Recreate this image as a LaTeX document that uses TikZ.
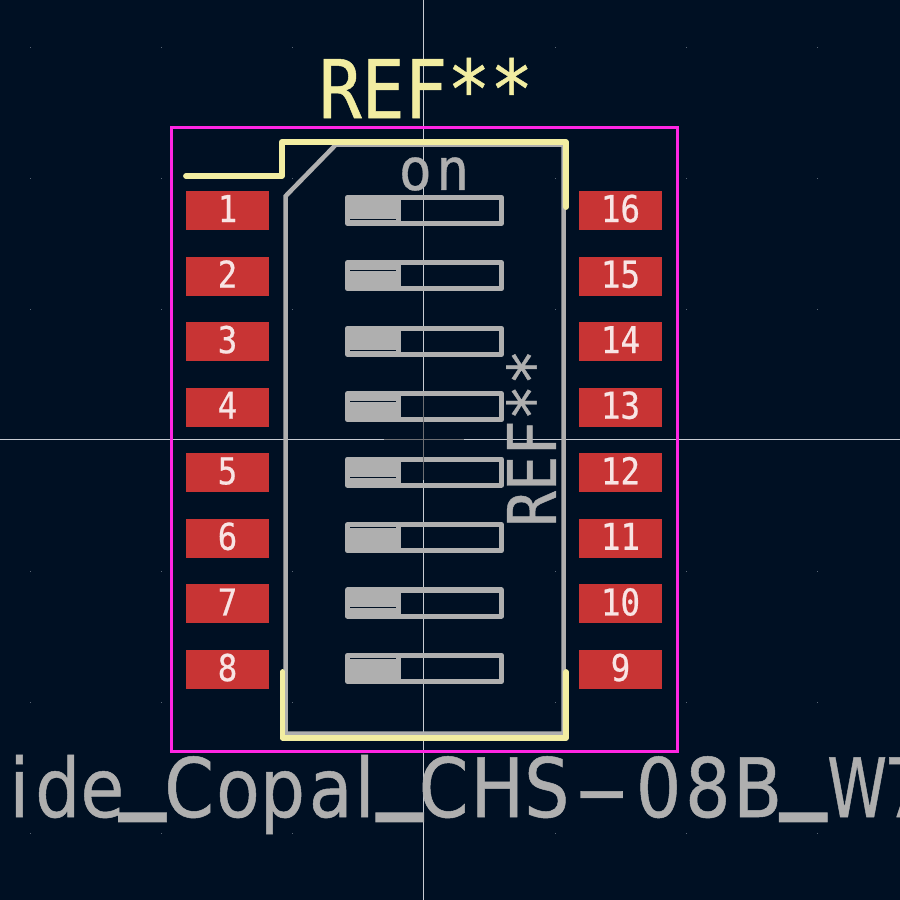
\documentclass[tikz,border=0pt]{standalone}
\usepackage{fontspec}
\newfontfamily\kifont[FakeStretch=0.88,FakeBold=0.6]{DejaVu Sans Mono}
\newfontfamily\kifontwide[FakeStretch=0.95,FakeBold=0.6]{DejaVu Sans Mono}
\newfontfamily\kifontsans[FakeStretch=0.87,FakeBold=0.6]{DejaVu Sans}
\newcommand{\kk}[1]{\kern#1pt}
\newcommand{\kiund}{\raisebox{7.4pt}{\scalebox{1.3}[1.6]{\_}}}
\newcommand{\kidash}{\scalebox{2.2}[1]{-}}
\newcommand{\kiwide}{\scalebox{0.85}[1]{W}}
\definecolor{boardbg}{HTML}{001023}
\definecolor{padred}{HTML}{C83434}
\definecolor{padtext}{HTML}{F8E4E4}
\definecolor{silkyellow}{HTML}{F2EDA1}
\definecolor{fabgray}{HTML}{AFAFAF}
\definecolor{courtpink}{HTML}{FF26E2}
\definecolor{crossline}{HTML}{C8CCD2}
\definecolor{griddot}{HTML}{5A6675}
\definecolor{anchorgray}{HTML}{6E7074}
\tikzset{
  pad/.style = {fill=padred,minimum width=0.83cm,minimum height=0.39cm,inner sep=0pt,text height=0.27cm,text depth=0.04cm,text=padtext,font=\kifont\fontsize{10.5}{11}\selectfont},
  slider/.style = {draw=fabgray,line width=0.05cm,line join=round,minimum width=1.54cm,minimum height=0.26cm,inner sep=0pt,outer sep=0pt},
  silk/.style = {draw=silkyellow,line width=0.058cm,line cap=round,line join=round},
  fab/.style = {draw=fabgray,line width=0.045cm},
  fabtext/.style = {text=fabgray,inner sep=0pt}
}
\begin{document}
\begin{tikzpicture}[x=0.01cm,y=-0.01cm]
    \fill[boardbg] (0,0) rectangle (900,900);
    \clip (0,0) rectangle (900,900);
    \useasboundingbox (0,0) rectangle (900,900);

    % grid dots
    \foreach \gx in {30,161,292,555,686,817} {
      \foreach \gy in {47,178,309,571,702,833} {
        \fill[griddot] (\gx-0.5,\gy-0.5) rectangle (\gx+0.5,\gy+0.5);
      }
    }

    % crosshair
    \coordinate (crosstop) at (423,0);
    \coordinate (crossbottom) at (423,900);
    \coordinate (crossleft) at (0,439);
    \coordinate (crossright) at (900,439);
    \draw[crossline,line width=0.008cm] (crosstop) -- (crossbottom);
    \draw[crossline,line width=0.008cm] (crossleft) -- (crossright);

    % courtyard
    \draw[courtpink,line width=0.03cm] (171.5,127.3) rectangle (677.4,751.3);

    % fab outline
    \coordinate (fabcut) at (336,144.5);
    \coordinate (fabnw) at (285.7,196);
    \coordinate (fabsw) at (285.7,733.5);
    \coordinate (fabse) at (563.7,733.5);
    \coordinate (fabne) at (563.7,144.5);
    \draw[fab] (fabcut) -- (fabnw) -- (fabsw) -- (fabse) -- (fabne) -- cycle;

    % sliders
    \node[slider] (s1) at (424.5,210.4) {};
    \node[slider] (s2) at (424.5,275.8) {};
    \node[slider] (s3) at (424.5,341.3) {};
    \node[slider] (s4) at (424.5,406.7) {};
    \node[slider] (s5) at (424.5,472.1) {};
    \node[slider] (s6) at (424.5,537.6) {};
    \node[slider] (s7) at (424.5,603) {};
    \node[slider] (s8) at (424.5,668.4) {};
    \foreach \sw/\ty in {s1/0.225,s2/0.075,s3/0.225,s4/0.075,s5/0.18,s6/0.03,s7/0.175,s8/0.03} {
      \fill[fabgray] (\sw.north west) rectangle ([xshift=0.54cm]\sw.south west);
      \draw[boardbg,line width=0.01cm] ([xshift=0.03cm,yshift=-\ty cm]\sw.north west) -- ++(46,0);
    }

    % footprint anchor
    \coordinate (ancleft) at (384,439);
    \coordinate (ancright) at (464,439);
    \coordinate (anctop) at (423,396);
    \coordinate (ancbottom) at (423,480);
    \draw[anchorgray,line width=0.008cm] (ancleft) -- (ancright);
    \draw[anchorgray,line width=0.008cm] (anctop) -- (ancbottom);

    % silkscreen
    \coordinate (silktick) at (186,176);
    \coordinate (silkstep) at (282,176);
    \coordinate (silktl) at (282,142);
    \coordinate (silktr) at (566,142);
    \coordinate (silkend) at (566,207);
    \draw[silk] (silktick) -- (silkstep) -- (silktl) -- (silktr) -- (silkend);
    \coordinate (silkleft) at (282.5,672);
    \coordinate (silkbl) at (282.5,737.8);
    \coordinate (silkbr) at (566,737.8);
    \coordinate (silkright) at (566,672);
    \draw[silk] (silkleft) -- (silkbl) -- (silkbr) -- (silkright);

    % pads
    \node[pad] (p1) at (227.5,210.5) {1};
    \node[pad] (p2) at (227.5,276.1) {2};
    \node[pad] (p3) at (227.5,341.6) {3};
    \node[pad] (p4) at (227.5,407.2) {4};
    \node[pad] (p5) at (227.5,472.8) {5};
    \node[pad] (p6) at (227.5,538.3) {6};
    \node[pad] (p7) at (227.5,603.9) {7};
    \node[pad] (p8) at (227.5,669.5) {8};
    \node[pad] (p9) at (620.5,669.5) {9};
    \node[pad] (p10) at (620.5,603.9) {10};
    \node[pad] (p11) at (620.5,538.3) {11};
    \node[pad] (p12) at (620.5,472.8) {12};
    \node[pad] (p13) at (620.5,407.2) {13};
    \node[pad] (p14) at (620.5,341.6) {14};
    \node[pad] (p15) at (620.5,276.1) {15};
    \node[pad] (p16) at (620.5,210.5) {16};

    % texts
    \node[text=silkyellow,inner sep=0pt,font=\kifont\fontsize{23}{24}\selectfont] (refsilk) at (426,88) {REF**};
    \node[fabtext,font=\kifontwide\fontsize{16.5}{17}\selectfont] (ontext) at (434,174) {o\kk{1.2}n};
    \node[fabtext,rotate=90,font=\kifont\fontsize{19}{20}\selectfont] (reffab) at (531,438) {REF**};
    \node[fabtext,anchor=base west,font=\kifontsans\fontsize{23.3}{24}\selectfont] (valuetext) at (-16,817) {l\kk{1.4}i\kk{1.7}de\kk{-1.4}\kiund\kk{-.4}C\kk{.6}op\kk{1.1}a\kk{.6}l\kk{.6}\kiund\kk{-1.2}C\kk{.6}HS\kk{1.1}\kidash\kk{1.7}0\kk{1.1}8\kk{.8}B\kk{-.6}\kiund\kk{.2}\kiwide\kk{-1}7};
\end{tikzpicture}
\end{document}
